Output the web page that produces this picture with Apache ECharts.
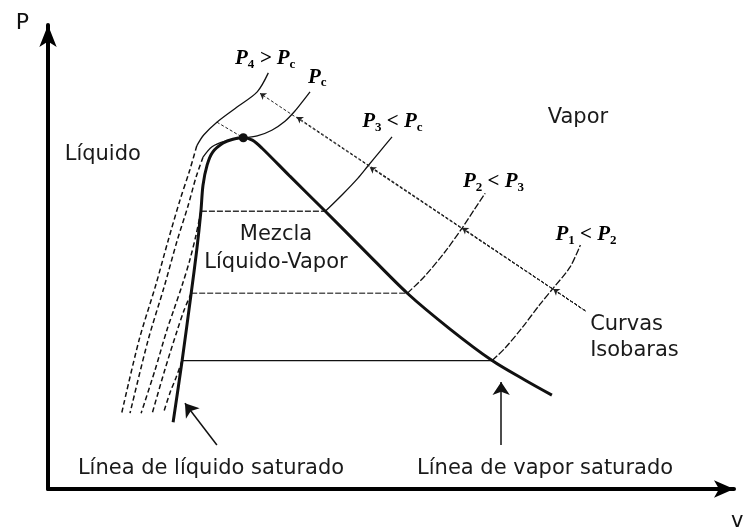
<!DOCTYPE html>
<html>
<head>
<meta charset="utf-8">
<script src="https://cdn.jsdelivr.net/npm/echarts@6/dist/echarts.min.js"></script>
<style>
  html, body { margin: 0; padding: 0; background: #fff; }
  #chart { width: 745px; height: 529px; }
</style>
</head>
<body>
<div id="chart"></div>
<script>
// Saturation dome: liquid branch up to the critical point, then the vapour branch
const saturationDome = [
  [18.0, 14.1], [19.3, 27.1], [20.6, 41.3], [21.4, 50.4], [22.0, 58.6], [22.3, 64.1],
  [22.9, 68.4], [23.7, 71.1], [25.2, 73.0], [26.6, 73.8], [28.1, 74.1], [29.4, 73.6],
  [30.8, 71.9], [34.8, 66.0], [39.9, 58.6], [45.6, 50.2], [51.7, 41.3], [57.8, 33.8],
  [63.9, 27.1], [68.6, 23.0], [72.5, 19.8]
];
const criticalPoint = [28.1, 74.1];

// Horizontal tie lines inside the dome (P3, P2, P1)
const tieP  = [58.6, 41.3, 27.1];
const tieVf = [22.0, 20.6, 19.3];
const tieVg = [39.9, 51.7, 63.9];

// Isobars: P4 > Pc
const p4Upper  = [[31.7, 87.8], [30.1, 83.8], [27.2, 80.6], [24.3, 77.4], [22.4, 74.7], [21.4, 72.4]];
const p4Liquid = [[21.4, 72.4], [20.4, 67.3], [19.0, 61.0], [17.3, 52.5], [15.5, 43.0], [13.1, 31.4], [10.6, 16.0]];
// Critical isobar Pc
const pcVapor  = [[28.1, 74.1], [30.1, 74.5], [32.2, 75.7], [34.1, 77.6], [35.5, 79.7], [36.7, 81.9], [37.7, 83.8]];
const pcUpper  = [[28.1, 74.1], [25.5, 73.4], [23.6, 72.2], [22.3, 70.0]];
const pcLiquid = [[22.3, 70.0], [21.3, 65.8], [20.1, 59.5], [18.6, 52.5], [16.7, 42.6], [14.4, 31.4], [11.8, 16.0]];
// Subcritical isobars P3, P2, P1
const p3Vapor  = [[39.9, 58.6], [42.4, 62.2], [44.6, 65.6], [46.0, 68.1], [47.8, 71.3], [49.5, 74.3]];
const p3Liquid = [[22.0, 58.6], [21.3, 53.6], [20.4, 48.3], [19.3, 43.0], [18.1, 37.8], [17.1, 33.5], [15.4, 25.1], [13.4, 16.0]];
const p2Vapor  = [[51.7, 41.3], [54.2, 44.9], [57.1, 50.0], [59.6, 55.1], [61.4, 59.1], [62.9, 62.4]];
const p2Liquid = [[20.6, 41.3], [19.6, 37.8], [18.6, 33.5], [16.8, 25.1], [15.0, 16.0]];
const p1Vapor  = [[63.9, 27.1], [65.8, 29.8], [68.2, 34.0], [70.8, 39.0], [72.7, 42.4], [75.1, 46.8], [76.6, 51.5]];
const p1Liquid = [[19.3, 27.1], [18.4, 23.4], [17.6, 20.5], [16.6, 16.0]];

// Pointer from the "Curvas Isobaras" note to each isobar
const pointerStart = [77.3, 37.6];
const pointerHits  = [[30.5, 83.5], [35.8, 78.5], [46.3, 67.9], [59.6, 55.1], [72.7, 42.2]];
const p4ToCritical = [[24.3, 77.4], [28.1, 74.1]];

// Arrows to the saturated-line captions
const liquidArrow = [[24.3, 9.3], [19.7, 18.1]];
const vaporArrow  = [[65.2, 9.3], [65.2, 22.6]];

// Plain captions: [v, P, text, anchor]
const captions = [
  [2.4, 70.5, 'Líquido', 'left'],
  [71.9, 78.3, 'Vapor', 'left'],
  [32.8, 53.6, 'Mezcla', 'center'],
  [32.8, 47.7, 'Líquido-Vapor', 'center'],
  [78.0, 34.6, 'Curvas', 'left'],
  [78.0, 29.3, 'Isobaras', 'left'],
  [4.3, 4.4, 'Línea de líquido saturado', 'left'],
  [53.1, 4.4, 'Línea de vapor saturado', 'left']
];

// Pressure labels: [v, P, main, sub, main, sub]
const pressureLabels = [
  [26.9, 90.9, 'P', '4', ' > P', 'c'],
  [37.4, 86.9, 'P', 'c', '', ''],
  [45.2, 77.6, 'P', '3', ' < P', 'c'],
  [59.7, 64.8, 'P', '2', ' < P', '3'],
  [73.0, 53.6, 'P', '1', ' < P', '2']
];

const ink = '#111';

function curve(data, style, z) {
  return {
    type: 'line', data: data, symbol: 'none', smooth: 0.3, silent: true,
    z: z || 3,
    lineStyle: Object.assign({ color: ink, width: 1.3 }, style)
  };
}

const series = [];
series.push(curve(saturationDome, { width: 3 }, 5));
series.push(curve(p4Upper, {}), curve(p4Liquid, { type: [5, 3], width: 1.5 }));
series.push(curve(pcVapor, {}), curve(pcUpper, {}), curve(pcLiquid, { type: [5, 3], width: 1.5 }));
series.push(curve(p3Vapor, {}), curve(p3Liquid, { type: [5, 3], width: 1.5 }));
series.push(curve(p2Vapor, { type: [7, 2] }), curve(p2Liquid, { type: [5, 3], width: 1.5 }));
series.push(curve(p1Vapor, { type: [7, 2] }), curve(p1Liquid, { type: [5, 3], width: 1.5 }));

// Tie lines
const tieStyles = [
  { color: '#333', width: 1.3, type: [6, 2] },
  { color: '#555', width: 1.3, type: [6, 2] },
  { color: ink, width: 1.2 }
];
tieP.forEach(function (p, i) {
  series.push({
    type: 'line', symbol: 'none', silent: true, z: 2,
    data: [[tieVf[i], p], [tieVg[i], p]],
    lineStyle: tieStyles[i]
  });
});

// Critical point
series.push({
  type: 'scatter', data: [criticalPoint], symbolSize: 9, silent: true, z: 6,
  itemStyle: { color: ink, opacity: 1 }
});

// Pointer lines with small arrowheads on each isobar
series.push({
  type: 'lines', coordinateSystem: 'cartesian2d', silent: true, z: 4,
  symbol: ['none', 'arrow'], symbolSize: 6,
  lineStyle: { color: '#222', width: 1, type: [3, 2], opacity: 1 },
  data: pointerHits.map(function (h) { return { coords: [pointerStart, h] }; })
    .concat([{ coords: p4ToCritical, symbol: ['none', 'none'] }])
});

// Caption arrows
series.push({
  type: 'lines', coordinateSystem: 'cartesian2d', silent: true, z: 4,
  symbol: ['none', 'arrow'], symbolSize: [9, 13],
  lineStyle: { color: ink, width: 1.5, opacity: 1 },
  data: [{ coords: liquidArrow }, { coords: vaporArrow }]
});

// Plain captions
series.push({
  type: 'scatter', symbolSize: 0, silent: true, z: 7,
  itemStyle: { opacity: 1 },
  data: captions.map(function (c) {
    return {
      value: [c[0], c[1]],
      label: {
        show: true, formatter: c[2],
        position: c[3] === 'center' ? 'inside' : 'right', distance: 0,
        fontFamily: 'DejaVu Sans', fontSize: 21, color: '#1a1a1a', opacity: 1
      }
    };
  })
});

// Pressure labels with subscripts
series.push({
  type: 'scatter', symbolSize: 0, silent: true, z: 7,
  itemStyle: { opacity: 1 },
  data: pressureLabels.map(function (l) {
    let txt = '{p|' + l[2] + '}{s|' + l[3] + '}';
    if (l[4]) txt += '{p|' + l[4] + '}{s|' + l[5] + '}';
    return {
      value: [l[0], l[1]],
      label: {
        show: true, formatter: txt, position: 'right', distance: 0, opacity: 1,
        rich: {
          p: { fontFamily: 'Liberation Serif', fontStyle: 'italic', fontWeight: 'bold', fontSize: 21, color: '#000', lineHeight: 25 },
          s: { fontFamily: 'Liberation Serif', fontWeight: 'bold', fontSize: 13, color: '#000', lineHeight: 25, verticalAlign: 'bottom' }
        }
      }
    };
  })
});

const chart = echarts.init(document.getElementById('chart'), null, { renderer: 'canvas' });
chart.setOption({
  animation: false,
  backgroundColor: '#fff',
  grid: { left: 48, right: 11, top: 25, bottom: 40, containLabel: false, outerBoundsMode: 'none' },
  xAxis: {
    type: 'value', min: 0, max: 98.7,
    name: 'v', nameLocation: 'end', nameGap: -3,
    nameTextStyle: { fontFamily: 'DejaVu Sans', fontSize: 21, color: '#111', align: 'left', verticalAlign: 'top', padding: [22, 0, 0, 0] },
    axisLine: { lineStyle: { color: '#000', width: 4 }, symbol: ['none', 'arrow'], symbolSize: [13, 20] },
    axisTick: { show: false }, axisLabel: { show: false }, splitLine: { show: false }
  },
  yAxis: {
    type: 'value', min: 0, max: 97.9,
    name: 'P', nameLocation: 'end', nameGap: 2,
    nameTextStyle: { fontFamily: 'DejaVu Sans', fontSize: 22, color: '#111', align: 'right', verticalAlign: 'middle', padding: [0, 19, 0, 0] },
    axisLine: { lineStyle: { color: '#000', width: 4 }, symbol: ['none', 'arrow'], symbolSize: [13, 22] },
    axisTick: { show: false }, axisLabel: { show: false }, splitLine: { show: false }
  },
  series: series
});
</script>
</body>
</html>
